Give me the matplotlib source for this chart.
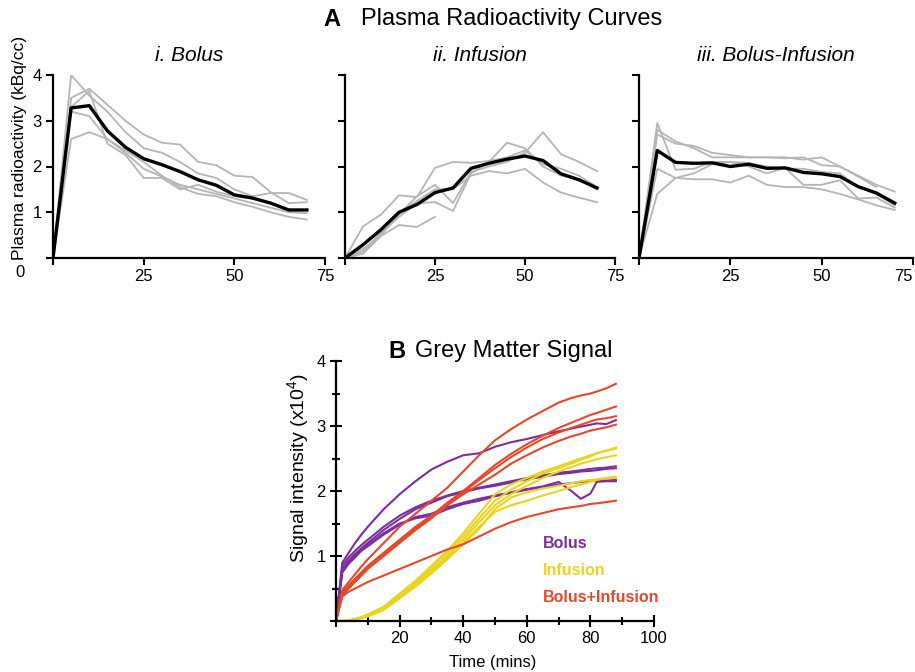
import numpy as np
import matplotlib
matplotlib.use('Agg')
import matplotlib.pyplot as plt

plt.rcParams['font.family'] = ['Liberation Sans', 'DejaVu Sans']
plt.rcParams['mathtext.fontset'] = 'custom'
plt.rcParams['mathtext.rm'] = 'Liberation Sans'

# ---- panel A data (kBq/cc) ----
time_a = [0, 5, 10, 15, 20, 25, 30, 35, 40, 45, 50, 55, 60, 65, 70]

bolus_mean = [0, 3.28, 3.33, 2.78, 2.42, 2.17, 2.04, 1.89, 1.71, 1.59, 1.38, 1.31, 1.2, 1.05, 1.05]
bolus_subjects = [
    [0, 3.5, 3.7, 3.35, 3.0, 2.7, 2.52, 2.48, 2.1, 2.03, 1.8, 1.77, 1.44, 1.2, 1.22],
    [0, 4.0, 3.55, 3.2, 2.75, 2.4, 2.3, 2.1, 1.85, 1.75, 1.5, 1.35, 1.42, 1.42, 1.27],
    [0, 3.2, 3.1, 2.6, 2.3, 1.95, 1.78, 1.6, 1.5, 1.4, 1.3, 1.2, 1.1, 1.0, 0.98],
    [0, 2.6, 2.75, 2.6, 2.35, 2.1, 1.8, 1.55, 1.4, 1.35, 1.22, 1.12, 1.0, 0.9, 0.84],
    [0, 3.3, 3.65, 2.5, 2.25, 1.75, 1.75, 1.5, 1.6, 1.45, 1.35, 1.3, 1.2, 1.05, 1.05],
]

infusion_mean = [0, 0.29, 0.62, 1.0, 1.17, 1.43, 1.53, 1.96, 2.07, 2.16, 2.23, 2.13, 1.84, 1.71, 1.53]
infusion_subjects = [
    [0, 0.69, 0.95, 1.37, 1.33, 1.97, 2.1, 2.08, 2.12, 2.2, 2.35, 2.05, 1.95, 1.8, 1.55],
    [0, 0.2, 0.5, 0.95, 1.35, 1.6, 1.2, 1.88, 2.0, 2.1, 2.3, 2.75, 2.27, 2.1, 1.9],
    [0, 0.15, 0.55, 0.9, 1.2, 1.22, 1.03, 1.85, 2.1, 2.52, 2.4, 2.0, 1.8, 1.72, 1.5],
    [0, 0.1, 0.5, 0.97, 1.25, 1.5, 1.5, 1.8, 1.9, 1.85, 1.95, 1.65, 1.43, 1.32, 1.22],
    [0, 0.1, 0.48, 0.72, 0.68, 0.9],
]

bolinf_mean = [0, 2.35, 2.09, 2.07, 2.08, 2.0, 2.05, 1.96, 1.97, 1.87, 1.84, 1.78, 1.56, 1.42, 1.2]
bolinf_subjects = [
    [0, 2.7, 2.5, 2.45, 2.3, 2.25, 2.2, 2.2, 2.2, 2.15, 2.2, 2.0, 1.8, 1.6, 1.45],
    [0, 2.8, 2.55, 2.4, 2.2, 2.2, 2.2, 2.2, 2.18, 2.2, 2.03, 2.0, 1.78, 1.55],
    [0, 1.95, 1.75, 1.72, 1.72, 1.65, 1.8, 1.6, 1.55, 1.55, 1.5, 1.4, 1.28, 1.15, 1.05],
    [0, 1.4, 1.75, 1.85, 2.05, 2.1, 2.0, 1.85, 1.97, 1.6, 1.6, 1.7, 1.3, 1.32, 1.1],
    [0, 2.95, 1.93, 1.95, 2.1, 2.1, 2.08, 2.0, 1.95, 1.95, 1.88, 1.85, 1.55, 1.4, 1.15],
]

# ---- panel B data (signal x10^4) ----
time_b = [0, 2, 4, 6, 8, 10, 15, 20, 25, 30, 35, 40, 45, 50, 55, 60, 65, 70, 74, 77, 80, 82, 85, 88]

bolus_gm = [
    [0, 0.9, 1.05, 1.2, 1.33, 1.45, 1.72, 1.95, 2.15, 2.33, 2.45, 2.55, 2.58, 2.68, 2.75, 2.8, 2.86, 2.92, 2.96, 2.99, 3.02, 3.04, 3.03, 3.09],
    [0, 0.85, 0.98, 1.08, 1.17, 1.25, 1.45, 1.62, 1.75, 1.85, 1.93, 2.0, 2.05, 2.1, 2.15, 2.2, 2.24, 2.28, 2.3, 2.32, 2.34, 2.35, 2.36, 2.38],
    [0, 0.8, 0.93, 1.03, 1.12, 1.2, 1.4, 1.57, 1.72, 1.82, 1.92, 1.98, 2.04, 2.08, 2.13, 2.18, 2.22, 2.26, 2.28, 2.3, 2.31, 2.32, 2.34, 2.35],
    [0, 0.78, 0.9, 1.0, 1.1, 1.17, 1.35, 1.5, 1.58, 1.62, 1.72, 1.8, 1.85, 1.92, 1.97, 2.02, 2.06, 2.1, 2.12, 2.14, 2.15, 2.16, 2.16, 2.17],
    [0, 0.75, 0.88, 0.98, 1.08, 1.15, 1.33, 1.48, 1.6, 1.65, 1.75, 1.82, 1.88, 1.93, 1.98, 2.03, 2.07, 2.14, 2.0, 1.88, 1.96, 2.14, 2.15, 2.15],
]
infusion_gm = [
    [0, 0, 0.01, 0.03, 0.06, 0.1, 0.22, 0.42, 0.62, 0.85, 1.08, 1.35, 1.65, 1.95, 2.1, 2.2, 2.3, 2.38, 2.45, 2.5, 2.55, 2.58, 2.62, 2.67],
    [0, 0, 0.01, 0.03, 0.06, 0.1, 0.2, 0.4, 0.6, 0.82, 1.05, 1.3, 1.58, 1.85, 2.02, 2.15, 2.27, 2.35, 2.42, 2.48, 2.53, 2.58, 2.62, 2.65],
    [0, 0, 0.01, 0.03, 0.05, 0.09, 0.2, 0.38, 0.57, 0.78, 1.0, 1.25, 1.52, 1.78, 1.95, 2.08, 2.2, 2.3, 2.37, 2.42, 2.46, 2.49, 2.52, 2.55],
    [0, 0, 0.01, 0.02, 0.05, 0.08, 0.18, 0.36, 0.55, 0.75, 0.97, 1.2, 1.45, 1.68, 1.78, 1.85, 1.93, 2.0, 2.06, 2.1, 2.14, 2.17, 2.2, 2.22],
    [0, 0, 0.01, 0.02, 0.04, 0.07, 0.17, 0.35, 0.53, 0.73, 0.95, 1.18, 1.42, 1.72, 1.9, 1.98, 2.04, 2.08, 2.12, 2.15, 2.17, 2.18, 2.2, 2.2],
]
bolinf_gm = [
    [0, 0.48, 0.6, 0.72, 0.84, 0.95, 1.2, 1.45, 1.65, 1.85, 2.05, 2.3, 2.55, 2.78, 2.95, 3.1, 3.23, 3.36, 3.43, 3.47, 3.5, 3.53, 3.58, 3.65],
    [0, 0.45, 0.55, 0.65, 0.75, 0.85, 1.05, 1.25, 1.45, 1.62, 1.82, 2.0, 2.2, 2.4, 2.57, 2.72, 2.85, 2.97, 3.05, 3.11, 3.17, 3.2, 3.25, 3.3],
    [0, 0.42, 0.53, 0.63, 0.73, 0.82, 1.02, 1.22, 1.42, 1.6, 1.8, 1.98, 2.17, 2.35, 2.52, 2.67, 2.8, 2.9, 2.97, 3.02, 3.07, 3.1, 3.12, 3.15],
    [0, 0.4, 0.5, 0.6, 0.7, 0.8, 1.0, 1.2, 1.4, 1.58, 1.78, 1.95, 2.1, 2.25, 2.42, 2.55, 2.67, 2.77, 2.84, 2.88, 2.93, 2.95, 2.98, 3.02],
    [0, 0.38, 0.45, 0.5, 0.55, 0.6, 0.7, 0.8, 0.9, 1.0, 1.1, 1.18, 1.3, 1.42, 1.52, 1.6, 1.66, 1.72, 1.75, 1.77, 1.8, 1.81, 1.83, 1.85],
]

GREY = '#b5b5b5'
PURPLE = '#7b2f9e'
YELLOW = '#e9d41f'
RED = '#e6482a'

W, H = 915, 672
fig = plt.figure(figsize=(W / 100, H / 100), dpi=100)


def px_axes(left, right, top, bottom):
    return fig.add_axes([left / W, 1 - bottom / H, (right - left) / W, (bottom - top) / H])


def style(ax, lw=1.6):
    for s in ['top', 'right']:
        ax.spines[s].set_visible(False)
    for s in ['left', 'bottom']:
        ax.spines[s].set_linewidth(lw)


panels = [
    ('i. Bolus', bolus_subjects, bolus_mean, 53, 325),
    ('ii. Infusion', infusion_subjects, infusion_mean, 345, 615),
    ('iii. Bolus-Infusion', bolinf_subjects, bolinf_mean, 639, 913),
]
for k, (title, subjects, mean, x0, x1) in enumerate(panels):
    ax = px_axes(x0, x1, 75, 258)
    for s in subjects:
        ax.plot(time_a[:len(s)], s, color=GREY, lw=1.3)
    ax.plot(time_a, mean, color='black', lw=2.4)
    ax.set_xlim(0, 75)
    ax.set_ylim(0, 4)
    style(ax)
    ax.set_xticks([0, 25, 50, 75])
    ax.set_xticklabels(['', '25', '50', '75'])
    ax.set_yticks([0, 1, 2, 3, 4])
    if k == 0:
        ax.set_yticklabels(['', '1', '2', '3', '4'])
        ax.set_ylabel('Plasma radioactivity (kBq/cc)', fontsize=12.6)
        ax.yaxis.set_label_coords(-0.094, 0.6)
        ax.text(-0.12, -0.08, '0', transform=ax.transAxes, ha='center', va='center', fontsize=12)
    else:
        ax.set_yticklabels([])
    ax.tick_params(direction='out', length=5, width=1.5, labelsize=12, pad=3)
    if k == 2:
        ax.get_xticklabels()[-1].set_horizontalalignment('right')
    ax.set_title(title, fontsize=15, style='italic', pad=10)

fig.text(323 / W, 1 - 19 / H, 'A', fontsize=17, weight='bold', va='center', ha='left')
fig.text(361 / W, 1 - 19 / H, 'Plasma Radioactivity Curves', fontsize=17, va='center', ha='left')

# ---- panel B ----
axb = px_axes(336, 654, 361, 621)
for s in bolus_gm:
    axb.plot(time_b, s, color=PURPLE, lw=1.5)
for s in infusion_gm:
    axb.plot(time_b, s, color=YELLOW, lw=1.5)
for s in bolinf_gm:
    axb.plot(time_b, s, color=RED, lw=1.5)
axb.set_xlim(0, 100)
axb.set_ylim(0, 4)
style(axb)
axb.set_xticks([0, 20, 40, 60, 80, 100])
axb.set_xticklabels(['', '20', '40', '60', '80', '100'])
axb.set_xticks([10, 30, 50, 70, 90], minor=True)
axb.set_yticks([0, 1, 2, 3, 4])
axb.set_yticklabels(['', '1', '2', '3', '4'])
axb.set_yticks([0.5, 1.5, 2.5, 3.5], minor=True)
axb.tick_params(which='major', direction='inout', length=9, width=1.5, labelsize=12, pad=3)
axb.tick_params(which='minor', direction='inout', length=6, width=1.5)
axb.set_ylabel(r'Signal intensity (x10$^{\mathregular{4}}$)', fontsize=14)
axb.yaxis.set_label_coords(-0.075, 0.588)
axb.set_xlabel('Time (mins)', fontsize=12)
axb.xaxis.set_label_coords(0.494, -0.13)

axb.text(0.651, 0.30, 'Bolus', color=PURPLE, weight='bold', fontsize=11.5, transform=axb.transAxes, va='center')
axb.text(0.651, 0.196, 'Infusion', color=YELLOW, weight='bold', fontsize=11.5, transform=axb.transAxes, va='center')
axb.text(0.651, 0.092, 'Bolus+Infusion', color=RED, weight='bold', fontsize=11.5, transform=axb.transAxes, va='center')

fig.text(388 / W, 1 - 351 / H, 'B', fontsize=17, weight='bold', va='center', ha='left')
fig.text(415 / W, 1 - 351 / H, 'Grey Matter Signal', fontsize=17, va='center', ha='left')

plt.savefig('out.png', dpi=100)
